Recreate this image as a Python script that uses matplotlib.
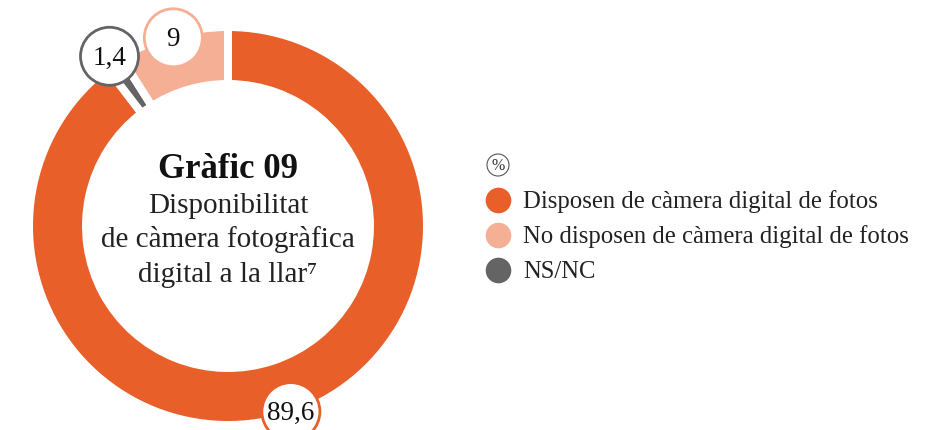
import matplotlib
matplotlib.use("Agg")
import matplotlib.pyplot as plt
from matplotlib.patches import Circle
import numpy as np

# ---- data ----
categories = ["Disposen de càmera digital de fotos",
              "No disposen de càmera digital de fotos",
              "NS/NC"]
values = [89.6, 9.0, 1.4]
colors = ["#E85F2A", "#F4AF95", "#646464"]
draw_order = [0, 2, 1]  # clockwise from top: orange, grey, salmon

title = "Gràfic 09"
subtitle = ["Disponibilitat", "de càmera fotogràfica", "digital a la llar\u2077"]

FONT = ["Liberation Serif", "DejaVu Serif"]
W, H = 942, 431
fig = plt.figure(figsize=(W / 100, H / 100), dpi=100)
ax = fig.add_axes([0, 0, 1, 1])

cx, cy = 228, H - 227
lw_px = 8
R_vis, r_vis = 195, 146
R = R_vis + lw_px / 2
width = (R_vis - r_vis) + lw_px

wedges, _ = ax.pie([values[i] for i in draw_order],
                   colors=[colors[i] for i in draw_order],
                   startangle=90, counterclock=False,
                   center=(cx, cy), radius=R,
                   wedgeprops=dict(width=width, edgecolor="white",
                                   linewidth=lw_px * 0.72))

def fmt(v):
    return ("%g" % v).replace(".", ",")

for w, i in zip(wedges, draw_order):
    th = np.deg2rad((w.theta1 + w.theta2) / 2)
    d = 207 if values[i] < 5 else 196
    x, y = cx + d * np.cos(th), cy + d * np.sin(th)
    ax.add_patch(Circle((x, y), 29, facecolor="white", edgecolor=colors[i],
                        linewidth=2.0, zorder=5))
    ax.text(x, y - 1, fmt(values[i]), ha="center", va="center",
            fontsize=19.5, family=FONT, color="#111111", zorder=6)

# central title
ax.text(cx, H - 178, title, ha="center", va="baseline", fontsize=25,
        fontweight="bold", family=FONT, color="#111111")
for k, line in enumerate(subtitle):
    ax.text(cx, H - (213 + 34.5 * k), line, ha="center", va="baseline",
            fontsize=21, family=FONT, color="#222222")

# legend
lx = 498
ax.add_patch(Circle((lx, H - 166), 11, facecolor="white", edgecolor="#555555",
                    linewidth=0.8))
ax.text(lx, H - 166, "%", ha="center", va="center", fontsize=11.5,
        family=FONT, color="#333333")
ys = [201, 236, 271]
for k, cat in enumerate(categories):
    ax.scatter([lx], [H - ys[k]], s=340, color=colors[k], linewidths=0)
    ax.text(lx + 25, H - ys[k] - 1, cat, ha="left", va="center",
            fontsize=17.8, family=FONT, color="#222222")

ax.set_xlim(0, W)
ax.set_ylim(0, H)
ax.set_aspect("equal")
ax.axis("off")
fig.savefig("out.png", dpi=100, facecolor="white")
